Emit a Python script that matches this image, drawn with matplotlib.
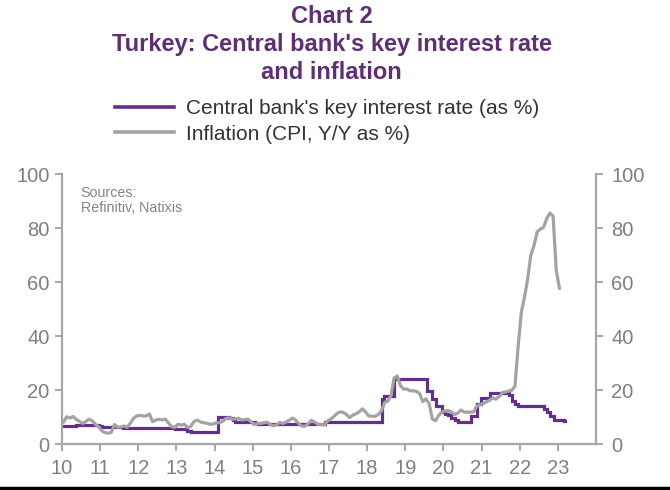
import matplotlib
matplotlib.use("Agg")
import matplotlib.pyplot as plt
from matplotlib.lines import Line2D

# ---- data -------------------------------------------------------------
# CPI Y/Y (%), monthly from Jan 2010 to Jan 2023
CPI_START_YEAR = 2010
cpi = [
    8.2, 10.1, 9.6, 10.2, 9.1, 8.4, 7.6, 8.3, 9.2, 8.6, 7.3, 6.4,        # 2010
    4.9, 4.2, 4.0, 4.3, 7.2, 6.2, 6.3, 6.7, 6.2, 7.7, 9.5, 10.4,        # 2011
    10.6, 10.4, 10.4, 11.1, 8.3, 8.9, 9.1, 8.9, 9.2, 7.8, 6.4, 6.2,     # 2012
    7.3, 7.0, 7.3, 6.1, 6.5, 8.3, 8.9, 8.2, 7.9, 7.7, 7.3, 7.4,         # 2013
    7.8, 7.9, 8.4, 9.4, 9.7, 9.2, 9.3, 9.5, 8.9, 9.0, 9.2, 8.2,         # 2014
    7.2, 7.6, 7.6, 7.9, 8.1, 7.2, 6.8, 7.1, 8.0, 7.6, 8.1, 8.8,         # 2015
    9.6, 8.8, 7.5, 6.6, 6.6, 7.6, 8.8, 8.1, 7.3, 7.2, 7.0, 8.5,         # 2016
    9.2, 10.1, 11.3, 11.9, 11.7, 10.9, 9.8, 10.7, 11.2, 11.9, 13.0, 11.9,   # 2017
    10.4, 10.3, 10.2, 10.9, 12.2, 15.4, 15.9, 17.9, 24.5, 25.2, 21.6, 20.3, # 2018
    20.4, 19.7, 19.7, 19.5, 18.7, 15.7, 16.7, 15.0, 9.3, 8.6, 10.6, 11.8,   # 2019
    12.2, 12.4, 11.9, 10.9, 11.4, 12.6, 11.8, 11.8, 11.8, 11.9, 14.0, 14.6, # 2020
    15.0, 15.6, 16.2, 17.1, 16.6, 17.5, 19.0, 19.3, 19.6, 19.9, 21.3, 36.1, # 2021
    48.7, 54.4, 61.1, 70.0, 73.5, 78.6, 79.6, 80.2, 83.5, 85.5, 84.4, 64.3, # 2022
    57.7,                                                                   # 2023
]

# Key policy rate (%): date of each decision (decimal year) and new level
rate_dates = [2010.0, 2010.38, 2010.96, 2011.05, 2011.59, 2012.96, 2013.29,
              2013.37, 2014.08, 2014.39, 2014.48, 2014.54, 2015.05, 2015.15,
              2016.9, 2018.39, 2018.43, 2018.7, 2019.56, 2019.7, 2019.81,
              2019.95, 2020.04, 2020.13, 2020.21, 2020.31, 2020.39, 2020.73,
              2020.88, 2020.98, 2021.21, 2021.73, 2021.8, 2021.88, 2021.96,
              2022.63, 2022.72, 2022.8, 2022.9, 2023.15, 2023.2]
rate_values = [6.5, 7.0, 6.5, 6.25, 5.75, 5.5, 5.0,
               4.5, 10.0, 9.5, 8.75, 8.25, 7.75, 7.5,
               8.0, 16.5, 17.75, 24.0, 19.75, 16.5, 14.0,
               12.0, 11.25, 10.75, 9.75, 8.75, 8.25, 10.25,
               15.0, 17.0, 19.0, 18.0, 16.0, 15.0, 14.0,
               13.0, 12.0, 10.5, 9.0, 8.5, 8.5]

year_ticks = list(range(2010, 2024))
year_labels = [str(y)[2:] for y in year_ticks]
y_ticks = [0, 20, 40, 60, 80, 100]

# ---- style ------------------------------------------------------------
PURPLE = "#62308A"
TITLE_C = "#5E2F72"
GREY = "#A3A3A3"
AXIS_C = "#A6A6A6"
LABEL_C = "#7F7F7F"

plt.rcParams["font.family"] = ["Liberation Sans", "DejaVu Sans"]

cpi_x = [CPI_START_YEAR + (i + 0.5) / 12 for i in range(len(cpi))]

fig = plt.figure(figsize=(6.7, 4.9), dpi=100)
ax = fig.add_axes([62 / 670, 1 - 444 / 490, (596 - 62) / 670, (444 - 174) / 490])

ax.plot(rate_dates, rate_values, drawstyle="steps-post", color=PURPLE,
        lw=2.3, solid_joinstyle="miter", zorder=2)
ax.plot(cpi_x, cpi, color=GREY, lw=2.3, zorder=3)

ax.set_xlim(2010, 2024)
ax.set_ylim(0, 100)
ax.set_xticks(year_ticks)
ax.set_xticklabels(year_labels)
ax.set_yticks(y_ticks)

ax2 = ax.twinx()
ax2.set_ylim(0, 100)
ax2.set_yticks(y_ticks)

for a in (ax, ax2):
    for sp in a.spines.values():
        sp.set_color(AXIS_C)
        sp.set_linewidth(1.6)
    a.spines["top"].set_visible(False)
    a.tick_params(direction="out", length=5, width=1.4, color=AXIS_C,
                  labelcolor=LABEL_C, labelsize=14.5)
ax.spines["right"].set_visible(False)
ax2.spines["left"].set_visible(False)
ax2.spines["bottom"].set_visible(False)
ax.tick_params(axis="x", pad=6)
ax.tick_params(axis="y", pad=4)
ax2.tick_params(axis="y", pad=6)

ax.text(0.035, 0.955, "Sources:\nRefinitiv, Natixis", transform=ax.transAxes,
        fontsize=10.3, color="#858585", va="top", ha="left", linespacing=1.1)

# title
title_kw = dict(ha="center", va="center", fontsize=17, fontweight="bold",
                color=TITLE_C)
fig.text(0.495, 0.967, "Chart 2", **title_kw)
fig.text(0.495, 0.909, "Turkey: Central bank's key interest rate", **title_kw)
fig.text(0.495, 0.853, "and inflation", **title_kw)

handles = [Line2D([], [], color=PURPLE, lw=2.6),
           Line2D([], [], color=GREY, lw=2.6)]
labels = ["Central bank's key interest rate (as %)", "Inflation (CPI, Y/Y as %)"]
fig.legend(handles, labels, loc="upper left", bbox_to_anchor=(0.172, 0.797),
           frameon=False, handlelength=2.8, handletextpad=0.6,
           labelspacing=0.3, borderaxespad=0, borderpad=0,
           prop={"size": 15}, labelcolor="#333333")

# dark rule at the bottom edge of the picture
fig.add_artist(Line2D([0, 1], [0.004, 0.004], transform=fig.transFigure,
                      color="black", lw=2.5))

fig.savefig("out.png", dpi=100)
